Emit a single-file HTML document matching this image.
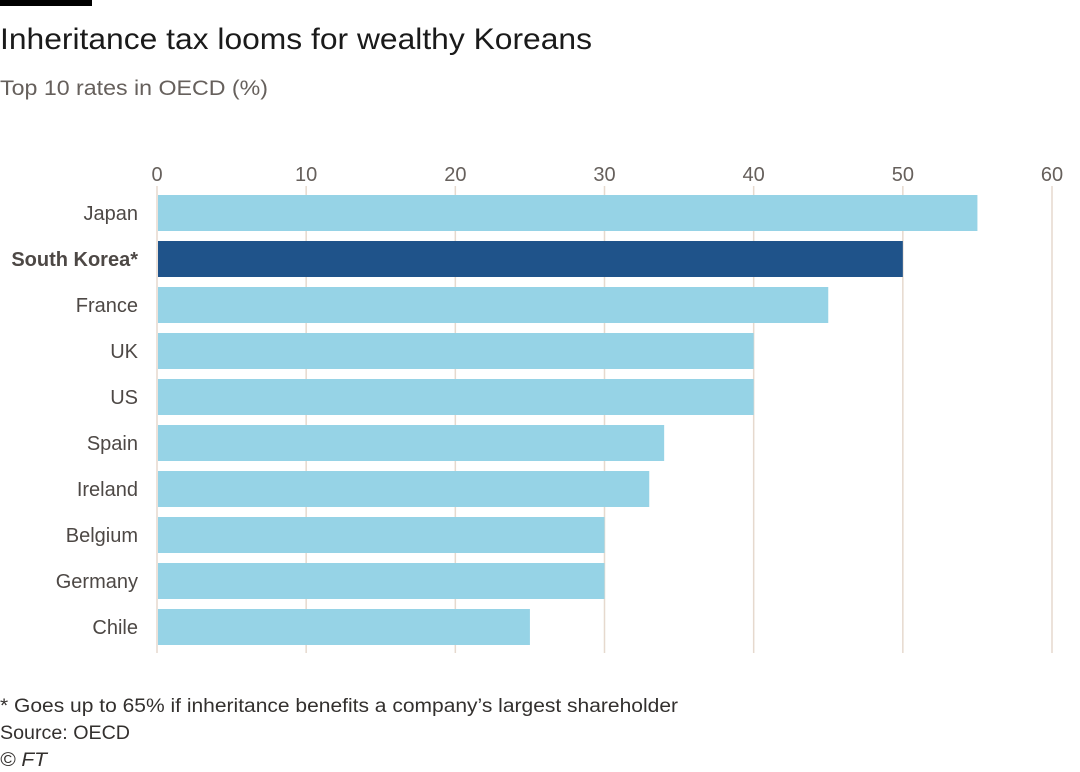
<!DOCTYPE html>
<html><head><meta charset="utf-8"><style>
body{margin:0;width:1080px;height:772px;background:#fff;font-family:"Liberation Sans",sans-serif;overflow:hidden}
</style></head><body>
<svg width="1080" height="772" id="c" style="position:absolute;left:0;top:0">
<rect x="0" y="0" width="92" height="6" fill="#000"/>
<text x="0" y="49" font-size="30" fill="#1a1a1a" textLength="592" lengthAdjust="spacingAndGlyphs">Inheritance tax looms for wealthy Koreans</text>
<text x="0" y="95" font-size="21" fill="#66605c" textLength="268" lengthAdjust="spacingAndGlyphs">Top 10 rates in OECD (%)</text>
<g id="grid"></g><g id="bars"></g>
<text x="0" y="712" font-size="19" fill="#33302e" textLength="678" lengthAdjust="spacingAndGlyphs">* Goes up to 65% if inheritance benefits a company’s largest shareholder</text>
<text x="0" y="739" font-size="19" fill="#33302e" textLength="130" lengthAdjust="spacingAndGlyphs">Source: OECD</text>
<text x="0" y="766" font-size="19" fill="#33302e" font-style="italic" textLength="47" lengthAdjust="spacingAndGlyphs">© FT</text>
</svg>
<script>
const categories=["Japan","South Korea*","France","UK","US","Spain","Ireland","Belgium","Germany","Chile"];
const values=[55,50,45,40,40,34,33,30,30,25];
const ticks=[0,10,20,30,40,50,60];
const highlight="South Korea*";
const NS="http://www.w3.org/2000/svg";
const x=v=>157+v*(1052-157)/60;
const y=i=>195+i*46;
const g=document.getElementById('grid'),b=document.getElementById('bars');
function mk(t,a,p){const e=document.createElementNS(NS,t);for(const k in a)e.setAttribute(k,a[k]);p.appendChild(e);return e;}
ticks.forEach(t=>{
 const l=mk('line',{x1:x(t),x2:x(t),y1:186,y2:653,stroke:'#e6d9ce','stroke-width':1.5},g);
 
 
 const tx=mk('text',{x:x(t),y:181,'text-anchor':'middle','font-size':20,fill:'#66605c'},g);
 tx.textContent=t;
 
 
});
categories.forEach((c,i)=>{
 const hi=c===highlight;
 const r=mk('rect',{x:x(0)+1,y:y(i),width:x(values[i])-x(0)-1,height:36,fill:hi?'#1f538a':'#96d3e6'},b);
 
 
 const t=mk('text',{x:138,y:y(i)+25,'text-anchor':'end','font-size':20,fill:'#4d4845','font-weight':hi?'bold':'normal'},b);
 t.textContent=c;
 
 
});
</script>
</body></html>
